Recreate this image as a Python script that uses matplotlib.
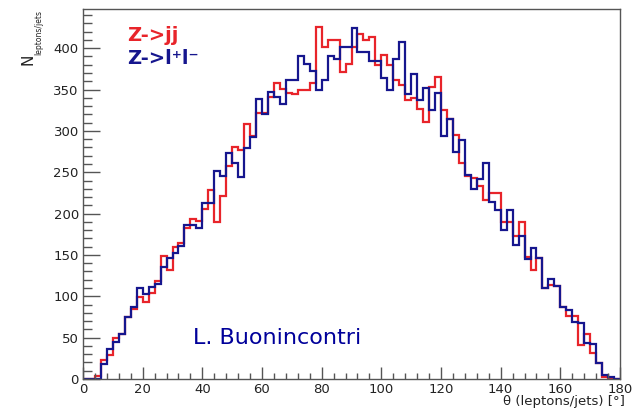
import matplotlib
matplotlib.use("Agg")
import matplotlib.pyplot as plt
from matplotlib.ticker import MultipleLocator
import numpy as np

# 90 bins of 2 degrees, theta from 0 to 180
bin_edges = np.linspace(0, 180, 91)

# Z->jj (red)
counts_jj = [
    0, 0, 4, 23, 29, 50, 55, 75, 85, 99,
    93, 104, 118, 149, 132, 160, 165, 182, 193, 191,
    205, 228, 190, 221, 257, 280, 277, 308, 294, 322,
    322, 341, 358, 351, 346, 345, 349, 350, 358, 426,
    402, 410, 410, 371, 381, 401, 417, 410, 414, 380,
    392, 380, 361, 355, 337, 340, 327, 311, 353, 365,
    325, 314, 295, 261, 246, 243, 233, 216, 225, 225,
    190, 190, 173, 190, 148, 132, 146, 110, 114, 112,
    87, 76, 76, 41, 54, 31, 19, 3, 0, 0,
]

# Z->l+l- (blue)
counts_ll = [
    0, 0, 0, 18, 36, 45, 55, 75, 87, 110,
    103, 111, 115, 136, 146, 152, 161, 186, 186, 182,
    213, 213, 251, 246, 273, 261, 244, 279, 293, 339,
    321, 347, 341, 333, 361, 362, 390, 381, 373, 349,
    361, 390, 387, 401, 402, 424, 395, 395, 385, 385,
    364, 350, 387, 408, 345, 369, 337, 352, 325, 346,
    294, 314, 274, 289, 247, 230, 242, 261, 214, 204,
    180, 204, 162, 173, 145, 158, 146, 110, 121, 112,
    87, 83, 69, 68, 43, 42, 19, 5, 2, 0,
]

RED = "#e8242a"
BLUE = "#16168e"

fig = plt.figure(figsize=(6.37, 4.09), dpi=100)
ax = fig.add_axes([83 / 637, 1 - 379 / 409, 537 / 637, 369.7 / 409])

ax.stairs(counts_jj, bin_edges, color=RED, lw=1.6)
ax.stairs(counts_ll, bin_edges, color=BLUE, lw=1.6)

ax.set_xlim(0, 180)
ax.set_ylim(0, 447)
ax.xaxis.set_major_locator(MultipleLocator(20))
ax.xaxis.set_minor_locator(MultipleLocator(4))
ax.yaxis.set_major_locator(MultipleLocator(50))
ax.yaxis.set_minor_locator(MultipleLocator(10))

ax.tick_params(axis="y", which="major", direction="in", length=12, width=1.0,
               color="#555555", labelsize=9.5, pad=3)
ax.tick_params(axis="y", which="minor", direction="in", length=6.5, width=1.0,
               color="#555555")
ax.tick_params(axis="x", which="major", direction="in", length=9, width=1.0,
               color="#555555", labelsize=9.5, pad=3)
ax.tick_params(axis="x", which="minor", direction="in", length=4.5, width=1.0,
               color="#555555")
for lab in ax.get_xticklabels() + ax.get_yticklabels():
    lab.set_color("#222222")

for side in ["left", "bottom", "top", "right"]:
    ax.spines[side].set_color("#555555")
    ax.spines[side].set_linewidth(1.0)

# axis titles (ROOT style)
fig.text(27.5 / 637, 1 - 54 / 409, "N", rotation=90, ha="center", va="top",
         fontsize=11, color="#222222")
fig.text(38.5 / 637, 1 - 10 / 409, "leptons/jets", rotation=90, ha="center",
         va="top", fontsize=5.5, color="#222222")
fig.text(625 / 637, 1 / 409, "\u03b8 (leptons/jets) [\u00b0]", ha="right",
         va="bottom", fontsize=9.5, color="#222222")

# legend labels
ax.text(0.083, 0.928, "Z->jj", transform=ax.transAxes, fontsize=14,
        fontweight="bold", color=RED, va="center")
ax.text(0.083, 0.868, "Z->l\u207al\u207b", transform=ax.transAxes, fontsize=14,
        fontweight="bold", color=BLUE, va="center")

ax.text(0.205, 0.112, "L. Buonincontri", transform=ax.transAxes, fontsize=16,
        color="#00009a", va="center")

fig.savefig("out.png", dpi=100)
